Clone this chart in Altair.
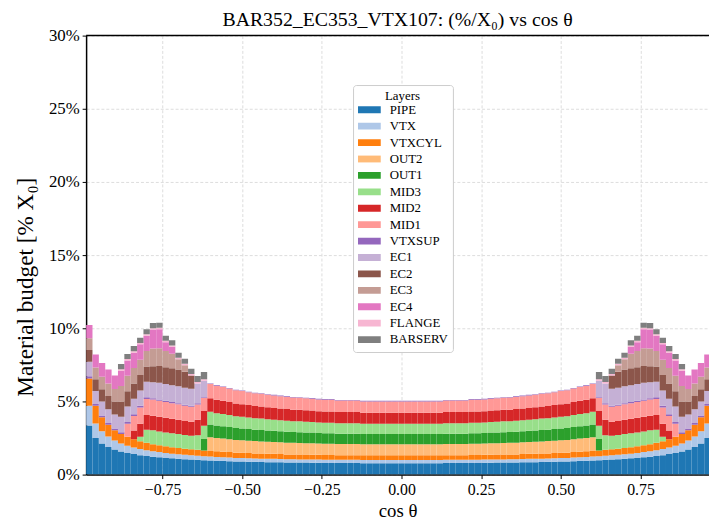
import altair as alt
import pandas as pd

layers = ["PIPE", "VTX", "VTXCYL", "OUT2", "OUT1", "MID3", "MID2", "MID1",
          "VTXSUP", "EC1", "EC2", "EC3", "EC4", "FLANGE", "BARSERV"]
colors = ["#1f77b4", "#aec7e8", "#ff7f0e", "#ffbb78", "#2ca02c", "#98df8a",
          "#d62728", "#ff9896", "#9467bd", "#c5b0d5", "#8c564b", "#c49c94",
          "#e377c2", "#f7b6d2", "#7f7f7f"]

# 99 bins of width 0.02 in cos(theta), left edges -0.99 ... 0.97 (values in % X0)
pipe = [3.35, 2.5, 2.12, 1.88, 1.71, 1.58, 1.48, 1.4, 1.33, 1.27,
        1.22, 1.18, 1.14, 1.11, 1.08, 1.05, 1.03, 1.01, 0.98, 0.97,
        0.95, 0.94, 0.92, 0.9, 0.89, 0.88, 0.87, 0.86, 0.85, 0.85,
        0.84, 0.83, 0.83, 0.82, 0.82, 0.81, 0.81, 0.8, 0.8, 0.79,
        0.79, 0.79, 0.79, 0.78, 0.78, 0.78, 0.78, 0.78, 0.78, 0.78,
        0.78, 0.78, 0.78, 0.78, 0.78, 0.78, 0.79, 0.79, 0.79, 0.79,
        0.8, 0.8, 0.81, 0.81, 0.82, 0.82, 0.83, 0.83, 0.84, 0.85,
        0.85, 0.86, 0.87, 0.88, 0.89, 0.9, 0.92, 0.94, 0.95, 0.97,
        0.98, 1.01, 1.03, 1.05, 1.08, 1.11, 1.14, 1.18, 1.22, 1.27,
        1.33, 1.4, 1.48, 1.58, 1.71, 1.88, 2.12, 2.5, 3.35]
vtx = [1.35, 1.0, 0.85, 0.72, 0.62, 0.55, 0.5, 0.45, 0.42, 0.4,
       0.38, 0.36, 0.34, 0.32, 0.31, 0.3, 0.29, 0.28, 0.27, 0.26,
       0.26, 0.25, 0.25, 0.24, 0.24, 0.24, 0.23, 0.23, 0.23, 0.23,
       0.22, 0.22, 0.22, 0.22, 0.22, 0.22, 0.22, 0.22, 0.22, 0.22,
       0.22, 0.22, 0.22, 0.22, 0.22, 0.22, 0.22, 0.22, 0.22, 0.22,
       0.22, 0.22, 0.22, 0.22, 0.22, 0.22, 0.22, 0.22, 0.22, 0.22,
       0.22, 0.22, 0.22, 0.22, 0.22, 0.22, 0.22, 0.22, 0.22, 0.23,
       0.23, 0.23, 0.23, 0.24, 0.24, 0.24, 0.25, 0.25, 0.26, 0.26,
       0.27, 0.28, 0.29, 0.3, 0.31, 0.32, 0.34, 0.36, 0.38, 0.4,
       0.42, 0.45, 0.5, 0.55, 0.62, 0.72, 0.85, 1.0, 1.35]
vtxcyl = [1.87, 1.2, 0.95, 0.8, 0.7, 0.65, 0.6, 0.56, 0.53, 0.5,
          0.48, 0.46, 0.45, 0.44, 0.43, 0.42, 0.41, 0.4, 0.39, 0.39,
          0.38, 0.37, 0.37, 0.36, 0.36, 0.35, 0.35, 0.35, 0.34, 0.34,
          0.34, 0.33, 0.33, 0.33, 0.33, 0.33, 0.32, 0.32, 0.32, 0.32,
          0.32, 0.32, 0.32, 0.32, 0.32, 0.32, 0.32, 0.32, 0.32, 0.32,
          0.32, 0.32, 0.32, 0.32, 0.32, 0.32, 0.32, 0.32, 0.32, 0.32,
          0.32, 0.32, 0.32, 0.33, 0.33, 0.33, 0.33, 0.33, 0.34, 0.34,
          0.34, 0.35, 0.35, 0.35, 0.36, 0.36, 0.37, 0.37, 0.38, 0.39,
          0.39, 0.4, 0.41, 0.42, 0.43, 0.44, 0.45, 0.46, 0.48, 0.5,
          0.53, 0.56, 0.6, 0.65, 0.7, 0.8, 0.95, 1.2, 1.87]
out2 = [0, 0, 0, 0, 0, 0, 0, 0, 0, 0,
        0, 0, 0, 0, 0, 0, 0, 0, 0, 0.93,
        0.91, 0.9, 0.88, 0.87, 0.86, 0.85, 0.84, 0.83, 0.82, 0.81,
        0.81, 0.8, 0.79, 0.79, 0.78, 0.78, 0.77, 0.77, 0.77, 0.76,
        0.76, 0.76, 0.76, 0.75, 0.75, 0.75, 0.75, 0.75, 0.75, 0.75,
        0.75, 0.75, 0.75, 0.75, 0.75, 0.75, 0.76, 0.76, 0.76, 0.76,
        0.77, 0.77, 0.77, 0.78, 0.78, 0.79, 0.79, 0.8, 0.81, 0.81,
        0.82, 0.83, 0.84, 0.85, 0.86, 0.87, 0.88, 0.9, 0.91, 0.93,
        0, 0, 0, 0, 0, 0, 0, 0, 0, 0,
        0, 0, 0, 0, 0, 0, 0, 0, 0]
out1 = [0, 0, 0, 0, 0, 0, 0, 0, 0, 0,
        0, 0, 0, 0, 0, 0, 0, 0, 0.8, 0.87,
        0.85, 0.84, 0.83, 0.81, 0.8, 0.79, 0.78, 0.78, 0.77, 0.76,
        0.75, 0.75, 0.74, 0.74, 0.73, 0.73, 0.72, 0.72, 0.72, 0.71,
        0.71, 0.71, 0.71, 0.7, 0.7, 0.7, 0.7, 0.7, 0.7, 0.7,
        0.7, 0.7, 0.7, 0.7, 0.7, 0.7, 0.71, 0.71, 0.71, 0.71,
        0.72, 0.72, 0.72, 0.73, 0.73, 0.74, 0.74, 0.75, 0.75, 0.76,
        0.77, 0.78, 0.78, 0.79, 0.8, 0.81, 0.83, 0.84, 0.85, 0.87,
        0.8, 0, 0, 0, 0, 0, 0, 0, 0, 0,
        0, 0, 0, 0, 0, 0, 0, 0, 0]
mid3 = [0, 0, 0, 0, 0, 0, 0, 0, 0.3, 0.9,
        0.95, 0.95, 0.95, 0.95, 0.95, 0.93, 0.92, 1.0, 0.9, 0.87,
        0.85, 0.84, 0.83, 0.81, 0.8, 0.79, 0.78, 0.78, 0.77, 0.76,
        0.75, 0.75, 0.74, 0.74, 0.73, 0.73, 0.72, 0.72, 0.72, 0.71,
        0.71, 0.71, 0.71, 0.7, 0.7, 0.7, 0.7, 0.7, 0.7, 0.7,
        0.7, 0.7, 0.7, 0.7, 0.7, 0.7, 0.71, 0.71, 0.71, 0.71,
        0.72, 0.72, 0.72, 0.73, 0.73, 0.74, 0.74, 0.75, 0.75, 0.76,
        0.77, 0.78, 0.78, 0.79, 0.8, 0.81, 0.83, 0.84, 0.85, 0.87,
        0.9, 1.0, 0.92, 0.93, 0.95, 0.95, 0.95, 0.95, 0.95, 0.9,
        0.3, 0, 0, 0, 0, 0, 0, 0, 0]
mid2 = [0, 0, 0, 0, 0, 0, 0, 0.6, 0.9, 1.0,
        1.0, 1.0, 1.0, 1.0, 0.98, 0.97, 0.96, 1.05, 1.0, 0.93,
        0.91, 0.9, 0.88, 0.87, 0.86, 0.85, 0.84, 0.83, 0.82, 0.81,
        0.81, 0.8, 0.79, 0.79, 0.78, 0.78, 0.77, 0.77, 0.77, 0.76,
        0.76, 0.76, 0.76, 0.75, 0.75, 0.75, 0.75, 0.75, 0.75, 0.75,
        0.75, 0.75, 0.75, 0.75, 0.75, 0.75, 0.76, 0.76, 0.76, 0.76,
        0.77, 0.77, 0.77, 0.78, 0.78, 0.79, 0.79, 0.8, 0.81, 0.81,
        0.82, 0.83, 0.84, 0.85, 0.86, 0.87, 0.88, 0.9, 0.91, 0.93,
        1.0, 1.05, 0.96, 0.97, 0.98, 1.0, 1.0, 1.0, 1.0, 1.0,
        0.9, 0.6, 0, 0, 0, 0, 0, 0, 0]
mid1 = [0, 0, 0, 0, 0, 0, 0.9, 1.0, 1.1, 1.1,
        1.1, 1.1, 1.08, 1.06, 1.05, 1.03, 1.02, 1.05, 0.9, 0.97,
        0.95, 0.94, 0.92, 0.9, 0.9, 0.88, 0.87, 0.86, 0.85, 0.85,
        0.84, 0.83, 0.83, 0.82, 0.82, 0.81, 0.81, 0.8, 0.8, 0.79,
        0.79, 0.79, 0.79, 0.78, 0.78, 0.78, 0.78, 0.78, 0.78, 0.78,
        0.78, 0.78, 0.78, 0.78, 0.78, 0.78, 0.79, 0.79, 0.79, 0.79,
        0.8, 0.8, 0.81, 0.81, 0.82, 0.82, 0.83, 0.83, 0.84, 0.85,
        0.85, 0.86, 0.87, 0.88, 0.9, 0.9, 0.92, 0.94, 0.95, 0.97,
        0.9, 1.05, 1.02, 1.03, 1.05, 1.06, 1.08, 1.1, 1.1, 1.1,
        1.1, 1.0, 0.9, 0, 0, 0, 0, 0, 0]
vtxsup = [0.15, 0.12, 0.12, 0.12, 0.12, 0.12, 0.12, 0.12, 0.12, 0.12,
          0.08, 0.08, 0.08, 0.08, 0.08, 0.08, 0.08, 0.08, 0.04, 0.04,
          0.04, 0.04, 0.04, 0.04, 0.04, 0.04, 0.04, 0.04, 0.04, 0.04,
          0.04, 0.04, 0.04, 0.04, 0.04, 0.04, 0.04, 0.04, 0.04, 0.04,
          0.04, 0.04, 0.04, 0.04, 0.04, 0.04, 0.04, 0.04, 0.04, 0.04,
          0.04, 0.04, 0.04, 0.04, 0.04, 0.04, 0.04, 0.04, 0.04, 0.04,
          0.04, 0.04, 0.04, 0.04, 0.04, 0.04, 0.04, 0.04, 0.04, 0.04,
          0.04, 0.04, 0.04, 0.04, 0.04, 0.04, 0.04, 0.04, 0.04, 0.04,
          0.04, 0.08, 0.08, 0.08, 0.08, 0.08, 0.08, 0.08, 0.08, 0.12,
          0.12, 0.12, 0.12, 0.12, 0.12, 0.12, 0.12, 0.12, 0.15]
ec1 = [1.0, 0.9, 0.95, 0.95, 0.95, 1.05, 1.05, 1.05, 1.05, 1.05,
       1.1, 1.15, 1.15, 1.15, 1.15, 1.15, 1.15, 1.36, 1.14, 0,
       0, 0, 0, 0, 0, 0, 0, 0, 0, 0,
       0, 0, 0, 0, 0, 0, 0, 0, 0, 0,
       0, 0, 0, 0, 0, 0, 0, 0, 0, 0,
       0, 0, 0, 0, 0, 0, 0, 0, 0, 0,
       0, 0, 0, 0, 0, 0, 0, 0, 0, 0,
       0, 0, 0, 0, 0, 0, 0, 0, 0, 0,
       1.14, 1.36, 1.15, 1.15, 1.15, 1.15, 1.15, 1.15, 1.1, 1.05,
       1.05, 1.05, 1.05, 1.05, 0.95, 0.95, 0.95, 0.9, 1.0]
ec2 = [0.8, 0.8, 0.85, 0.9, 0.9, 1.05, 1.05, 1.05, 1.05, 1.05,
       1.1, 1.15, 1.15, 1.15, 1.15, 1.1, 0.92, 0, 0, 0,
       0, 0, 0, 0, 0, 0, 0, 0, 0, 0,
       0, 0, 0, 0, 0, 0, 0, 0, 0, 0,
       0, 0, 0, 0, 0, 0, 0, 0, 0, 0,
       0, 0, 0, 0, 0, 0, 0, 0, 0, 0,
       0, 0, 0, 0, 0, 0, 0, 0, 0, 0,
       0, 0, 0, 0, 0, 0, 0, 0, 0, 0,
       0, 0, 0.92, 1.1, 1.15, 1.15, 1.15, 1.15, 1.1, 1.05,
       1.05, 1.05, 1.05, 1.05, 0.9, 0.9, 0.85, 0.8, 0.8]
ec3 = [0.8, 0.8, 0.85, 0.85, 0.85, 1.05, 1.05, 1.05, 1.05, 1.05,
       1.2, 1.2, 1.1, 1.0, 0.7, 0.44, 0, 0, 0, 0,
       0, 0, 0, 0, 0, 0, 0, 0, 0, 0,
       0, 0, 0, 0, 0, 0, 0, 0, 0, 0,
       0, 0, 0, 0, 0, 0, 0, 0, 0, 0,
       0, 0, 0, 0, 0, 0, 0, 0, 0, 0,
       0, 0, 0, 0, 0, 0, 0, 0, 0, 0,
       0, 0, 0, 0, 0, 0, 0, 0, 0, 0,
       0, 0, 0, 0.44, 0.7, 1.0, 1.1, 1.2, 1.2, 1.05,
       1.05, 1.05, 1.05, 1.05, 0.85, 0.85, 0.85, 0.8, 0.8]
ec4 = [0.9, 0.88, 0.93, 0.96, 0.93, 1.05, 1.05, 1.05, 1.05, 1.05,
       1.3, 1.3, 0.6, 0.47, 0, 0, 0, 0, 0, 0,
       0, 0, 0, 0, 0, 0, 0, 0, 0, 0,
       0, 0, 0, 0, 0, 0, 0, 0, 0, 0,
       0, 0, 0, 0, 0, 0, 0, 0, 0, 0,
       0, 0, 0, 0, 0, 0, 0, 0, 0, 0,
       0, 0, 0, 0, 0, 0, 0, 0, 0, 0,
       0, 0, 0, 0, 0, 0, 0, 0, 0, 0,
       0, 0, 0, 0, 0, 0.47, 0.6, 1.3, 1.3, 1.05,
       1.05, 1.05, 1.05, 1.05, 0.93, 0.96, 0.93, 0.88, 0.9]
flange = [0, 0, 0, 0, 0, 0.1, 0.1, 0.1, 0.1, 0.1,
          0.1, 0.1, 0.1, 0.1, 0.1, 0.1, 0.1, 0.1, 0.1, 0,
          0, 0, 0, 0, 0, 0, 0, 0, 0, 0,
          0, 0, 0, 0, 0, 0, 0, 0, 0, 0,
          0, 0, 0, 0, 0, 0, 0, 0, 0, 0,
          0, 0, 0, 0, 0, 0, 0, 0, 0, 0,
          0, 0, 0, 0, 0, 0, 0, 0, 0, 0,
          0, 0, 0, 0, 0, 0, 0, 0, 0, 0,
          0.1, 0.1, 0.1, 0.1, 0.1, 0.1, 0.1, 0.1, 0.1, 0.1,
          0.1, 0.1, 0.1, 0.1, 0, 0, 0, 0, 0]
barserv = [0, 0, 0, 0, 0, 0.35, 0.35, 0.35, 0.35, 0.35,
           0.35, 0.35, 0.35, 0.35, 0.35, 0.35, 0.35, 0.4, 0.5, 0,
           0, 0, 0, 0, 0, 0, 0, 0, 0, 0,
           0, 0, 0, 0, 0, 0, 0, 0, 0, 0,
           0, 0, 0, 0, 0, 0, 0, 0, 0, 0,
           0, 0, 0, 0, 0, 0, 0, 0, 0, 0,
           0, 0, 0, 0, 0, 0, 0, 0, 0, 0,
           0, 0, 0, 0, 0, 0, 0, 0, 0, 0,
           0.5, 0.4, 0.35, 0.35, 0.35, 0.35, 0.35, 0.35, 0.35, 0.35,
           0.35, 0.35, 0.35, 0.35, 0, 0, 0, 0, 0]

series = [pipe, vtx, vtxcyl, out2, out1, mid3, mid2, mid1, vtxsup,
          ec1, ec2, ec3, ec4, flange, barserv]

edges = [round(-0.99 + 0.02 * i, 2) for i in range(100)]

rows = []
for li, (name, vals) in enumerate(zip(layers, series)):
    assert len(vals) == 99, (name, len(vals))
    for i, v in enumerate(vals):
        rows.append({"lo": edges[i], "hi": edges[i + 1], "layer": name, "order": li, "value": v})
df = pd.DataFrame(rows)

SERIF = "Liberation Serif"

bars = alt.Chart(df).transform_stack(
    stack="value", groupby=["lo"], as_=["y0", "y1"], sort=[alt.SortField("order", order="ascending")]
).mark_rect(clip=True).encode(
    x=alt.X("lo:Q", scale=alt.Scale(domain=[-0.99, 0.965], nice=False, zero=False),
            axis=alt.Axis(values=[-0.75, -0.5, -0.25, 0, 0.25, 0.5, 0.75],
                          labelExpr="replace(format(datum.value, '.2f'), '-', '\u2212')",
                          title="cos \u03b8", titleFont=SERIF, titleFontSize=19, titleFontWeight="normal",
                          titleBaseline="middle", titleY=36, titleColor="black",
                          labelFont=SERIF, labelFontSize=16, labelColor="black", labelPadding=3,
                          tickSize=4, tickColor="black", domainColor="black", domainWidth=1.5,
                          gridDash=[3, 2], gridColor="#dddddd")),
    x2="hi:Q",
    y=alt.Y("y0:Q", scale=alt.Scale(domain=[0, 30], nice=False),
            axis=alt.Axis(values=[0, 5, 10, 15, 20, 25, 30], labelExpr="datum.value + '%'",
                          title="Material budget [% X\u2080]", titleFont=SERIF, titleFontSize=23.5,
                          titleFontWeight="normal", titleAngle=-90, titleBaseline="middle",
                          titleX=-61, titleY=254, titleColor="black",
                          labelFont=SERIF, labelFontSize=17, labelColor="black", labelPadding=3,
                          tickSize=4, tickColor="black", domainColor="black", domainWidth=1.5,
                          gridDash=[3, 2], gridColor="#dddddd")),
    y2="y1:Q",
    color=alt.Color("layer:N", scale=alt.Scale(domain=layers, range=colors), sort=layers,
                    legend=alt.Legend(orient="none", legendX=270, legendY=50, title="Layers",
                                      titleFont=SERIF, titleFontSize=13, titleFontWeight="normal",
                                      titleAnchor="middle", titleColor="black", titlePadding=1,
                                      labelFont=SERIF, labelFontSize=13, labelColor="black",
                                      symbolType="M-1,-0.3L1,-0.3L1,0.3L-1,0.3Z", symbolSize=529,
                                      symbolStrokeWidth=0, clipHeight=12, rowPadding=3.6,
                                      fillColor="white", strokeColor="#cccccc", cornerRadius=3,
                                      padding=5, labelOffset=9)),
)

top = alt.Chart(pd.DataFrame({"y": [30]})).mark_rule(color="black", strokeWidth=1.5).encode(y="y:Q")

chart = alt.layer(bars, top).properties(
    width=630, height=444,
    title=alt.Title("BAR352_EC353_VTX107: (%/X\u2080) vs cos \u03b8", font=SERIF, fontSize=20,
                    fontWeight="normal", color="black", offset=-3),
    autosize=alt.AutoSizeParams(type="none"),
    padding={"left": 79, "top": 25, "right": 0, "bottom": 44},
).configure_view(stroke=None)

chart.save("out.html", embed_options={"renderer": "svg", "actions": False})
